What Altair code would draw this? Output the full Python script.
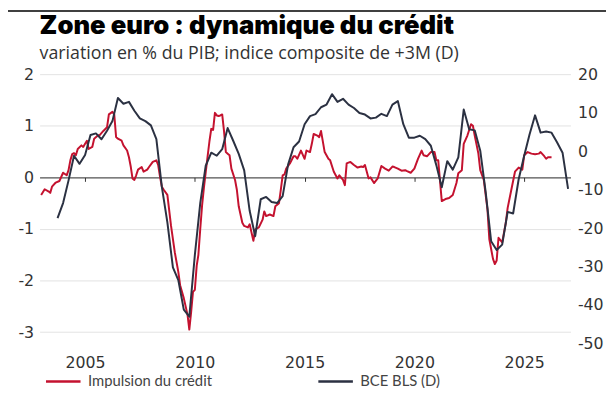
import altair as alt
import pandas as pd

title_text = "Zone euro : dynamique du crédit"
subtitle_text = "variation en % du PIB; indice composite de +3M (D)"
series_names = ["Impulsion du crédit", "BCE BLS (D)"]
series_colors = ["#c4122f", "#2b3142"]

# Credit impulse (left axis), months counted from January 2003
red_months = [0, 2, 4, 5, 6, 8, 10, 12, 14, 15, 16, 17, 18, 19, 20, 22, 23, 24, 25, 26,
              28, 29, 31, 32, 34, 36, 37, 39, 40, 41, 42, 44, 45, 47, 48, 49, 50, 51, 52, 53,
              55, 56, 58, 59, 61, 63, 64, 65, 66, 67, 69, 71, 73, 75, 76, 78, 80, 81, 82, 83,
              84, 85, 86, 87, 88, 89, 90, 91, 92, 93, 94, 95, 96, 97, 98, 99, 100, 101, 102, 103,
              104, 106, 107, 108, 110, 111, 113, 114, 116, 117, 119, 121, 122, 123, 125, 127, 128, 130, 131, 132,
              133, 134, 136, 138, 139, 140, 142, 144, 145, 147, 148, 149, 151, 152, 153, 155, 157, 158, 160, 162,
              163, 165, 166, 167, 169, 171, 173, 175, 176, 177, 179, 180, 182, 184, 186, 188, 190, 192, 193, 195,
              197, 199, 200, 202, 204, 206, 208, 209, 211, 213, 215, 216, 217, 218, 219, 221, 223, 225, 227, 228,
              230, 231, 233, 235, 236, 237, 239, 240, 242, 244, 245, 247, 248, 249, 250, 252, 254, 255, 257, 259,
              261, 263, 264, 266, 268, 270, 272, 273, 275, 276, 277, 279]
red_values = [-0.34, -0.23, -0.27, -0.30, -0.18, -0.10, -0.07, 0.09, 0.04, 0.14, 0.33, 0.45, 0.47, 0.43, 0.55, 0.62, 0.59, 0.65, 0.71, 0.55,
              0.59, 0.75, 0.81, 0.82, 0.90, 0.97, 1.22, 1.27, 1.22, 0.78, 0.75, 0.71, 0.62, 0.52, 0.39, 0.20, -0.02, -0.05, 0.04, 0.15,
              0.20, 0.11, 0.15, 0.20, 0.30, 0.33, 0.24, 0.01, -0.18, -0.24, -0.34, -0.94, -1.45, -1.83, -2.09, -2.34, -2.66, -2.95, -2.60, -2.22,
              -2.18, -1.71, -1.50, -1.00, -0.55, -0.20, 0.10, 0.40, 0.70, 0.94, 0.92, 1.25, 1.20, 1.19, 1.20, 1.22, 0.90, 0.49, 0.46, 0.43,
              0.17, -0.05, -0.24, -0.56, -0.88, -0.94, -0.97, -0.91, -1.23, -1.01, -0.97, -0.82, -0.66, -0.75, -0.72, -0.75, -0.56, -0.50, -0.24, 0.04,
              0.06, 0.17, 0.27, 0.41, 0.41, 0.36, 0.52, 0.36, 0.52, 0.49, 0.65, 0.84, 0.81, 0.78, 0.90, 0.49, 0.36, 0.33, 0.11, -0.02,
              0.04, -0.05, -0.15, 0.27, 0.30, 0.24, 0.19, 0.21, 0.20, 0.24, -0.02, 0.00, -0.11, -0.02, 0.22, 0.17, 0.13, 0.21, 0.20, 0.17,
              0.13, 0.14, 0.12, 0.09, 0.17, 0.36, 0.52, 0.43, 0.41, 0.49, 0.49, 0.33, 0.33, -0.05, -0.46, -0.42, -0.40, -0.34, -0.11, 0.08,
              0.14, 0.65, 0.81, 1.03, 1.00, 0.81, 0.46, 0.14, -0.05, -0.62, -1.20, -1.58, -1.68, -1.61, -1.17, -1.26, -0.88, -0.59, -0.24, 0.11,
              0.19, 0.15, 0.43, 0.49, 0.46, 0.45, 0.46, 0.49, 0.41, 0.36, 0.39, 0.39]

# ECB Bank Lending Survey composite (right axis), quarterly from Q4 2003
bls_start = "2003-10-01"
bls_values = [-17.4, -13.5, -7.6, -1.2, -3.3,
              -1.0, 4.2, 4.6, 3.1, 5.3, 7.8, 13.8, 12.3, 12.8, 10.5, 8.5, 7.8, 6.7, 3.1, -9.3,
              -18.5, -30.2, -33.5, -41.2, -43.0, -27.0, -13.5, -3.8, -0.4, -1.2, 0.5, 6.0,
              2.7, -0.7, -5.0, -15.5, -22.1, -12.5, -11.9, -13.2, -13.5, -11.7, -3.5, 1.0, 2.5, 7.0,
              9.1, 9.6, 11.4, 12.1, 14.8, 12.8, 13.6, 12.1, 11.2, 9.9, 9.5, 8.5, 8.7, 9.7, 9.1, 12.1,
              13.0, 7.0, 3.5, 3.5, 4.0, 3.1, 1.4, -3.7, -9.4, -2.6, -4.8, -1.6, 10.8, 5.7, 5.4, 0.1,
              -10.6, -23.4, -25.7, -24.3, -15.8, -16.2, -7.3, -1.2, 4.4, 9.3, 4.8, 5.1, 4.8, 2.3, -0.4, -9.8]

x_tick_years = [2005, 2010, 2015, 2020, 2025]
left_ticks = [-3, -2, -1, 0, 1, 2]
right_ticks = [-50, -40, -30, -20, -10, 0, 10, 20]
left_domain = [-3.22, 2]
right_domain = [-50, 20]

W, H = 538, 273
PAD = {"left": 32, "top": 64.5, "right": 36, "bottom": 42.5}

red_df = pd.DataFrame({
    "date": [f"{2003 + m // 12}-{m % 12 + 1:02d}-01" for m in red_months],
    "value": red_values,
    "series": series_names[0],
})
bls_df = pd.DataFrame({
    "date": pd.date_range(bls_start, periods=len(bls_values), freq="QS").strftime("%Y-%m-%d"),
    "value": bls_values,
    "series": series_names[1],
})

x_domain = [alt.DateTime(year=2002, month=12, date=6, utc=True),
            alt.DateTime(year=2027, month=2, date=10, utc=True)]
x_values = [alt.DateTime(year=y, month=1, date=1, utc=True) for y in x_tick_years]

zero_offset = -H * (0 - left_domain[0]) / (left_domain[1] - left_domain[0])
hyphen_labels = "datum.value < 0 ? '-' + format(-datum.value, 'd') : format(datum.value, 'd')"

legend = alt.Legend(
    orient="none", legendX=5, legendY=292.5, direction="horizontal", title=None,
    symbolType="stroke", symbolSize=1225, symbolStrokeWidth=2.5,
    labelFont="Lato", labelFontSize=15, labelColor="#444", labelOffset=6,
    columnPadding=102, padding=0,
)
color = alt.Color("series:N", scale=alt.Scale(domain=series_names, range=series_colors), legend=legend)

label_font = "DejaVu Sans"

red = alt.Chart(red_df).mark_line(strokeWidth=2, strokeJoin="round").encode(
    x=alt.X("date:T", scale=alt.Scale(domain=x_domain),
            axis=alt.Axis(orient="bottom", values=x_values, labels=False, ticks=True, tickSize=4,
                          tickColor="#333", tickWidth=1, domain=True, domainColor="#333", domainWidth=1,
                          grid=False, offset=zero_offset, title=None)),
    y=alt.Y("value:Q", scale=alt.Scale(domain=left_domain, nice=False, zero=False),
            axis=alt.Axis(orient="left", values=left_ticks, grid=True, gridColor="#e3e3e3", gridWidth=1,
                          domain=False, ticks=False, labelPadding=6, title=None, labelExpr=hyphen_labels,
                          labelFont=label_font, labelFontSize=16, labelColor="#333")),
    color=color,
)

bls = alt.Chart(bls_df).mark_line(strokeWidth=2, strokeJoin="round").encode(
    x=alt.X("date:T", scale=alt.Scale(domain=x_domain),
            axis=alt.Axis(orient="bottom", values=x_values, format="%Y", formatType="utc",
                          labels=True, ticks=False, tickSize=0, domain=False, grid=False,
                          labelPadding=11, title=None, labelFont=label_font, labelFontSize=16,
                          labelColor="#333")),
    y=alt.Y("value:Q", scale=alt.Scale(domain=right_domain, nice=False, zero=False),
            axis=alt.Axis(orient="right", values=right_ticks, grid=False, domain=False, ticks=False,
                          labelPadding=7, title=None, labelExpr=hyphen_labels, labelFont=label_font,
                          labelFontSize=16, labelColor="#333")),
    color=color,
)

top_line = alt.Chart(pd.DataFrame({"k": [0]})).mark_rule(color="black", strokeWidth=1.5).encode(
    x=alt.value(-PAD["left"]), x2=alt.value(W + PAD["right"]), y=alt.value(-64)
)

title_mark = alt.Chart(pd.DataFrame({"t": [title_text]})).mark_text(
    align="left", baseline="alphabetic", font="Inter", fontSize=26, fontWeight=900, color="#000"
).encode(x=alt.value(0), y=alt.value(-40.5), text="t:N")

subtitle_mark = alt.Chart(pd.DataFrame({"t": [subtitle_text]})).mark_text(
    align="left", baseline="alphabetic", font="Open Sans", fontSize=18, color="#333"
).encode(x=alt.value(0), y=alt.value(-15.5), text="t:N")

chart = alt.layer(red, bls, top_line, title_mark, subtitle_mark).resolve_scale(
    x="independent", y="independent"
).properties(
    width=W, height=H,
    autosize=alt.AutoSizeParams(type="none"),
    padding=PAD,
    background="white",
).configure_view(stroke=None)

chart.save("out.html", embed_options={"renderer": "svg", "actions": False})
